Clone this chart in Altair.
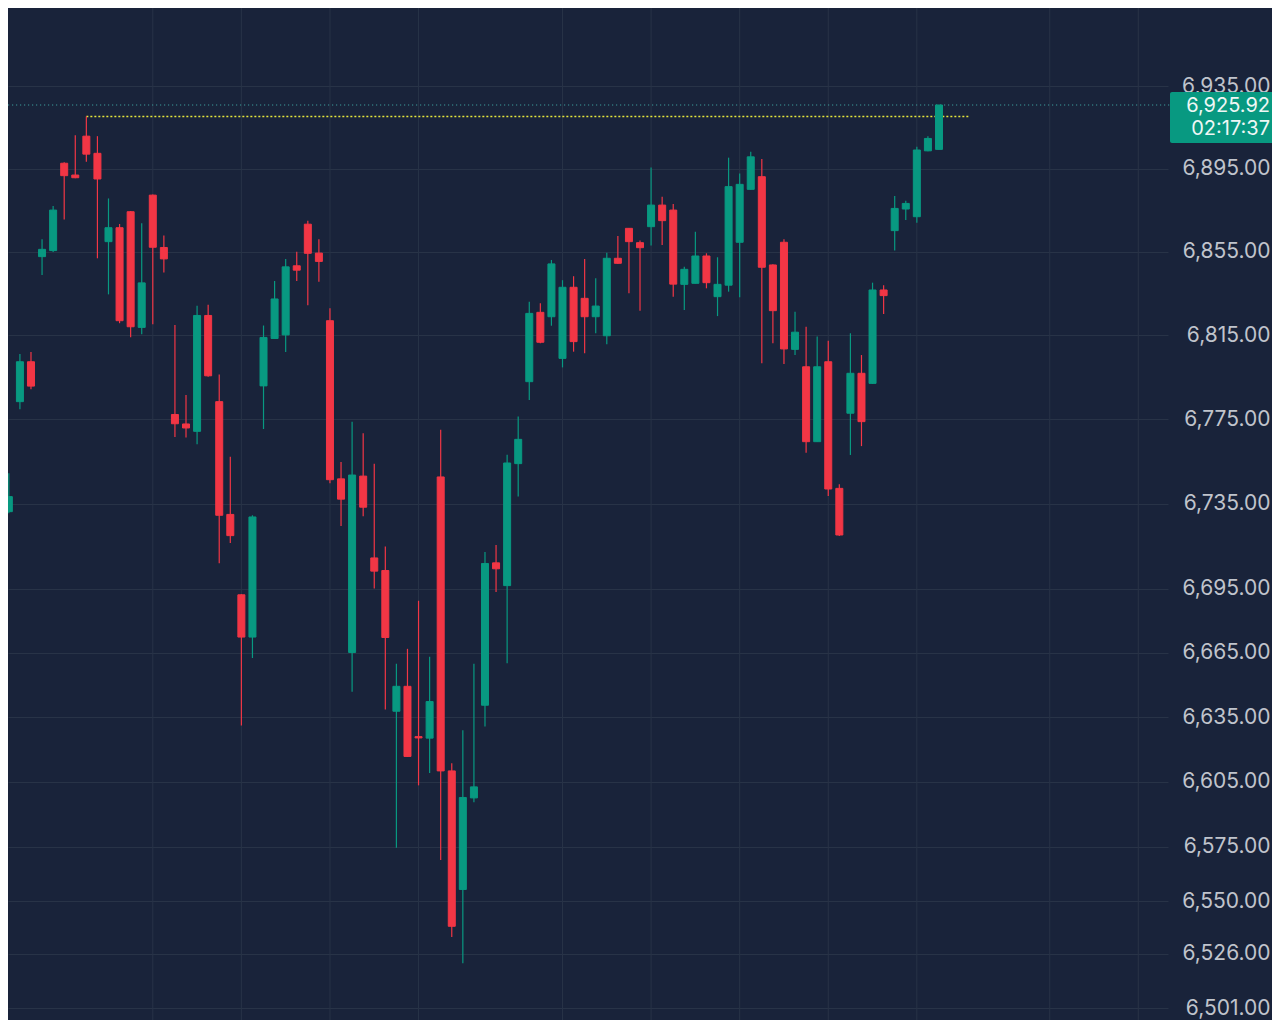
import altair as alt
import pandas as pd

# ---- data (prices) ----
idx = list(range(85))
opens = [6731.3, 6783.4, 6802.4, 6852.7, 6855.6, 6897.7, 6892.0, 6910.8, 6902.5, 6859.9,
         6866.6, 6874.3, 6818.8, 6882.3, 6857.1, 6777.3, 6772.8, 6769.3, 6824.5, 6783.4,
         6730.0, 6692.2, 6672.4, 6790.9, 6813.5, 6815.2, 6848.3, 6868.3, 6854.4, 6822.0,
         6746.8, 6665.2, 6748.1, 6709.5, 6703.6, 6637.8, 6649.4, 6626.0, 6625.3, 6747.7,
         6610.1, 6555.4, 6597.6, 6640.6, 6707.2, 6696.5, 6754.0, 6792.9, 6826.0, 6823.9,
         6804.0, 6838.0, 6832.7, 6823.9, 6814.8, 6851.9, 6866.3, 6859.4, 6867.1, 6877.5,
         6875.1, 6839.4, 6839.9, 6853.0, 6833.5, 6839.0, 6859.6, 6885.1, 6891.2, 6848.7,
         6859.6, 6808.3, 6800.0, 6764.4, 6802.4, 6742.3, 6777.9, 6796.9, 6792.1, 6836.7,
         6865.2, 6875.6, 6871.9, 6903.7, 6904.4]
highs = [6749.4, 6806.1, 6807.0, 6861.0, 6877.0, 6898.2, 6911.3, 6920.3, 6910.8, 6880.7,
         6868.4, 6874.6, 6868.7, 6882.6, 6862.8, 6819.9, 6786.6, 6829.2, 6829.6, 6796.3,
         6757.2, 6692.5, 6729.6, 6819.7, 6841.0, 6851.6, 6855.1, 6869.9, 6861.0, 6827.9,
         6754.8, 6773.8, 6768.4, 6754.0, 6714.9, 6659.9, 6666.9, 6689.4, 6663.2, 6770.1,
         6613.7, 6629.0, 6659.9, 6712.3, 6715.6, 6758.2, 6776.4, 6831.1, 6830.3, 6851.1,
         6841.4, 6843.3, 6851.6, 6842.3, 6854.6, 6862.6, 6866.5, 6860.4, 6895.7, 6881.5,
         6878.0, 6847.9, 6864.7, 6854.3, 6852.4, 6900.4, 6892.8, 6903.3, 6899.7, 6849.0,
         6861.0, 6826.3, 6819.1, 6814.4, 6812.4, 6744.3, 6816.0, 6805.6, 6840.2, 6839.0,
         6881.9, 6879.6, 6905.7, 6910.8, 6925.92]
lows = [6730.5, 6779.8, 6789.3, 6843.9, 6854.9, 6870.6, 6890.5, 6898.4, 6851.9, 6834.6,
        6820.8, 6814.1, 6815.5, 6820.3, 6845.1, 6766.6, 6766.4, 6763.2, 6795.2, 6707.0,
        6716.5, 6631.2, 6662.6, 6770.4, 6813.3, 6807.0, 6841.0, 6829.4, 6840.7, 6744.7,
        6724.5, 6646.9, 6729.1, 6695.2, 6638.6, 6574.6, 6616.6, 6603.4, 6609.1, 6569.0,
        6533.6, 6521.6, 6595.6, 6630.7, 6693.5, 6660.2, 6738.5, 6784.2, 6811.2, 6819.6,
        6799.7, 6807.2, 6806.4, 6816.0, 6810.7, 6849.3, 6835.1, 6826.8, 6858.0, 6858.3,
        6833.5, 6827.1, 6839.8, 6837.5, 6824.2, 6835.9, 6833.2, 6885.0, 6801.7, 6811.2,
        6801.3, 6805.6, 6759.2, 6764.2, 6738.7, 6719.8, 6758.1, 6762.3, 6791.9, 6825.2,
        6855.6, 6870.3, 6869.0, 6903.5, 6904.2]
closes = [6738.4, 6802.4, 6790.8, 6856.2, 6875.1, 6891.7, 6890.7, 6902.1, 6890.1, 6866.6,
          6822.0, 6819.1, 6840.1, 6857.2, 6851.6, 6772.9, 6770.9, 6824.5, 6795.7, 6729.6,
          6720.0, 6672.4, 6728.8, 6814.0, 6832.4, 6847.8, 6846.2, 6854.3, 6850.4, 6746.4,
          6737.2, 6748.6, 6733.4, 6703.3, 6672.2, 6649.4, 6616.8, 6625.4, 6642.3, 6610.1,
          6538.5, 6597.8, 6602.7, 6706.9, 6704.4, 6754.3, 6765.5, 6825.5, 6811.7, 6849.2,
          6838.0, 6812.0, 6823.9, 6829.0, 6851.9, 6849.5, 6859.9, 6857.0, 6877.5, 6870.0,
          6839.5, 6846.6, 6853.0, 6840.2, 6839.4, 6886.4, 6887.5, 6900.8, 6847.6, 6826.8,
          6808.5, 6816.5, 6764.4, 6800.0, 6742.0, 6720.3, 6796.9, 6773.9, 6836.7, 6834.0,
          6875.9, 6878.3, 6904.1, 6909.7, 6925.92]

tick_values = [6501, 6526, 6550, 6575, 6605, 6635, 6665, 6695, 6735, 6775,
               6815, 6855, 6895, 6935]
vgrid_at = [13, 21, 29, 37, 50, 58, 66, 74, 82, 94, 102]

last_price = 6925.92
last_label = "6,925.92"
timer_label = "02:17:37"
high_level = 6920.3
high_from, high_to = 7, 86.8

# ---- styling ----
BG = "#19233a"
GRID = "#283347"
UP = "#089981"
DOWN = "#f23645"
LABEL = "#c0c4cc"
FONT = "Inter"
FS = 21
FS_BOX = 20

W, H = 1160, 1012
x_scale = alt.Scale(domain=[0.376, 104.23], nice=False, zero=False)
y_scale = alt.Scale(type="log", domain=[6495.70, 6973.16], nice=False, zero=False)

df = pd.DataFrame({"i": idx, "open": opens, "high": highs, "low": lows, "close": closes})
df["dir"] = ["up" if c >= o else "down" for o, c in zip(opens, closes)]

color = alt.Color("dir:N", scale=alt.Scale(domain=["up", "down"], range=[UP, DOWN]), legend=None)

y_axis = alt.Axis(
    orient="right", values=tick_values, format=",.2f", title=None,
    labelFontSize=FS, labelFont=FONT, labelColor=LABEL, labelAlign="right",
    labelBaseline="middle", labelPadding=102, ticks=False, domain=False,
    grid=True, gridColor=GRID, gridWidth=1, labelOverlap=False,
)

base = alt.Chart(df)

vgrid = alt.Chart(pd.DataFrame({"g": vgrid_at})).mark_rule(color=GRID, strokeWidth=1).encode(
    x=alt.X("g:Q", scale=x_scale, axis=None)
)

hl = alt.Chart(pd.DataFrame({"a": [high_from], "b": [high_to], "v": [high_level]})).mark_rule(
    color="#e6e63c", strokeWidth=1.6, strokeDash=[2, 2]
).encode(
    x=alt.X("a:Q", scale=x_scale, axis=None), x2="b:Q",
    y=alt.Y("v:Q", scale=y_scale, axis=y_axis),
)

lastdf = pd.DataFrame({"p": [last_price], "lab": [last_label], "t": [timer_label]})

lastline = alt.Chart(lastdf).mark_rule(color="#3c9c9a", strokeWidth=1.2, strokeDash=[1.2, 2.8]).encode(
    x=alt.value(0), x2=alt.value(W + 2),
    y=alt.Y("p:Q", scale=y_scale),
)

wicks = base.mark_rule(strokeWidth=1.2, clip=True).encode(
    x=alt.X("i:Q", scale=x_scale, axis=None),
    y=alt.Y("low:Q", scale=y_scale),
    y2="high:Q",
    color=color,
)

bodies = base.mark_bar(size=7, strokeWidth=1, clip=True).encode(
    x=alt.X("i:Q", scale=x_scale, axis=None),
    y=alt.Y("open:Q", scale=y_scale),
    y2="close:Q",
    color=color,
    stroke=alt.Stroke("dir:N", scale=alt.Scale(domain=["up", "down"], range=[UP, DOWN]), legend=None),
)

box = alt.Chart(lastdf).mark_rect(color=UP, yOffset=-13, y2Offset=38, cornerRadius=2).encode(
    x=alt.value(W + 2), x2=alt.value(W + 110),
    y=alt.Y("p:Q", scale=y_scale), y2="p:Q",
)

txt1 = alt.Chart(lastdf).mark_text(
    align="right", baseline="middle", fontSize=FS_BOX, font=FONT, color="#eef7f5", dy=1
).encode(x=alt.value(W + 102), y=alt.Y("p:Q", scale=y_scale), text="lab:N")

txt2 = alt.Chart(lastdf).mark_text(
    align="right", baseline="middle", fontSize=FS_BOX, font=FONT, color="#eef7f5", dy=24
).encode(x=alt.value(W + 102), y=alt.Y("p:Q", scale=y_scale), text="t:N")

chart = alt.layer(vgrid, hl, lastline, wicks, bodies, box, txt1, txt2).properties(
    width=W, height=H,
    autosize=alt.AutoSizeParams(type="none"),
    padding={"left": 0, "top": 0, "right": 104, "bottom": 0},
    background=BG,
).configure_view(stroke=None)

chart.save("out.html", embed_options={"renderer": "svg", "actions": False})
